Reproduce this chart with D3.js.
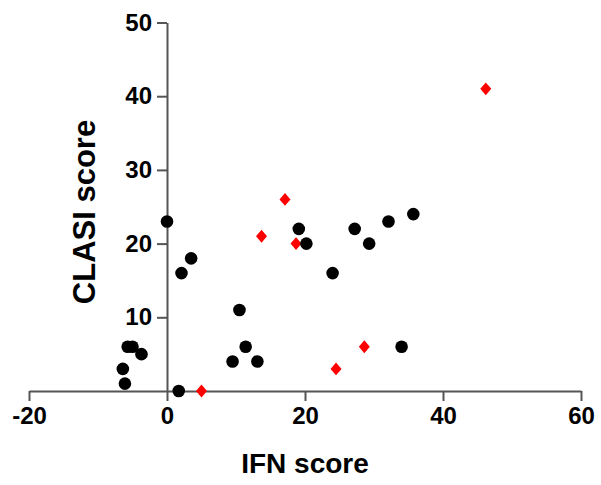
<!DOCTYPE html>
<html>
<head>
<meta charset="utf-8">
<script src="https://cdn.jsdelivr.net/npm/d3@7"></script>
<style>
  body { margin: 0; background: #fff; }
  svg { display: block; font-family: "Liberation Sans", Arial, sans-serif; }
</style>
</head>
<body>
<svg class="scatter"></svg>
<script>
// IFN score vs CLASI score
let blackX = [0, 2.1, 3.5, 10.5, 11.4, 9.5, 13.1, 19.1, 20.2, 24.0, 27.2, 29.3, 32.1, 35.7, 34.0, -6.4, -6.1, -5.7, -5.0, -3.7, 1.7];
let blackY = [23, 16, 18, 11, 6, 4, 4, 22, 20, 16, 22, 20, 23, 24, 6, 3, 1, 6, 6, 5, 0];
let redX = [46.2, 17.1, 13.7, 18.7, 28.6, 24.5, 5.0];
let redY = [41, 26, 21, 20, 6, 3, 0];
let xTicks = [-20, 0, 20, 40, 60];
let yTicks = [10, 20, 30, 40, 50];

let width = 601, height = 485;
let svg = d3.select('.scatter')
    .attr("width", width)
    .attr("height", height);

let x = d3.scaleLinear().domain([-20, 60]).range([29, 581]);
let y = d3.scaleLinear().domain([0, 50]).range([391, 22.5]);

let axisColor = "#555";

// x axis (plain hyphen for negatives, like the original)
let gx = svg.append("g")
    .attr("transform", "translate(0," + y(0) + ")")
    .call(d3.axisBottom(x).tickValues(xTicks).tickFormat(d => String(d))
        .tickSize(10).tickSizeOuter(0).tickPadding(6));

// y axis crossing at x = 0
let gy = svg.append("g")
    .attr("transform", "translate(" + x(0) + ",0)")
    .call(d3.axisLeft(y).tickValues(yTicks).tickFormat(d => String(d))
        .tickSize(10).tickSizeOuter(0).tickPadding(5));

[gx, gy].forEach(g => {
    g.select(".domain").attr("stroke", axisColor).attr("stroke-width", 2);
    g.selectAll(".tick line").attr("stroke", axisColor).attr("stroke-width", 2);
    g.selectAll(".tick text")
        .attr("fill", "#000")
        .style("font-size", "24px")
        .style("font-weight", "bold")
        .style("font-family", "'Liberation Sans', Arial, sans-serif");
});

// axis titles
svg.append("text")
    .attr("x", x(20))
    .attr("y", 473)
    .attr("text-anchor", "middle")
    .style("font-size", "28px")
    .style("font-weight", "bold")
    .text("IFN score");

svg.append("text")
    .attr("transform", "translate(95," + 212 + ") rotate(-90)")
    .attr("text-anchor", "middle")
    .style("font-size", "31px")
    .style("font-weight", "bold")
    .text("CLASI score");

// red diamonds (drawn first, circles sit on top)
let diamond = d3.symbol().type(d3.symbolDiamond2).size(95);
svg.append("g").selectAll("path")
    .data(d3.range(redX.length))
    .enter()
    .append("path")
    .attr("d", diamond)
    .attr("transform", i => "translate(" + x(redX[i]) + "," + y(redY[i]) + ") scale(0.9,1.05)")
    .attr("fill", "#f00");

svg.append("g").selectAll("circle")
    .data(d3.range(blackX.length))
    .enter()
    .append("circle")
    .attr("cx", i => x(blackX[i]))
    .attr("cy", i => y(blackY[i]))
    .attr("r", 6.3)
    .attr("fill", "#000");
</script>
</body>
</html>
